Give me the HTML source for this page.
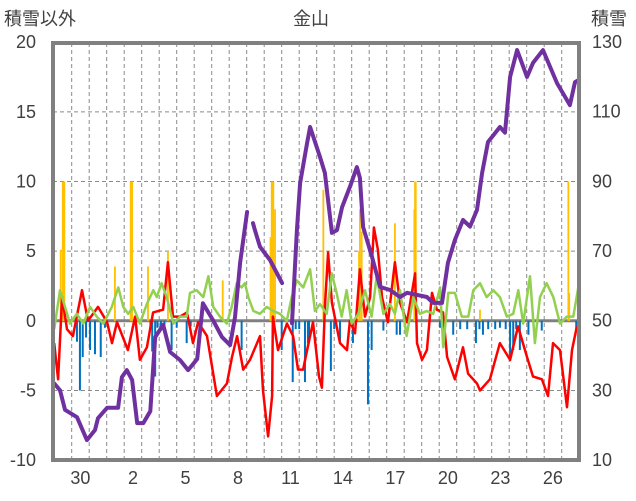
<!DOCTYPE html>
<html><head><meta charset="utf-8">
<style>
html,body{margin:0;padding:0;background:#fff;}
svg{display:block;}
text{font-family:"Liberation Sans","Noto Sans CJK JP",sans-serif;fill:#404040;font-size:18px;}
</style></head>
<body>
<svg id="chart" width="636" height="501">
<text x="4" y="25">積雪以外</text>
<text x="311" y="25" text-anchor="middle">金山</text>
<text x="591" y="25">積雪</text>
<g id="grid"></g>
<g id="bars"></g>
<g id="lines"></g>
<g id="axes"></g>
</svg>
<script>
const leftTicks=[20,15,10,5,0,-5,-10];
const rightTicks=[130,110,90,70,50,30,10];
const dayLabels=["30","2","5","8","11","14","17","20","23","26"];
const dayLabelIdx=[1,4,7,10,13,16,19,22,25,28];
const purpleT=[0,0.33,0.62,1.30,1.87,2.33,2.50,3.02,3.65,3.87,4.15,4.45,4.74,5.09,5.49,5.77,6.23,6.62,7.19,7.65,8.17,8.50,9.07,9.59,10.05,10.33,10.62,11.02,null,11.36,11.47,11.76,12.33,13.02,null,13.59,13.87,14.05,14.45,14.62,15.19,15.47,15.87,16.16,16.45,16.90,17.30,17.47,17.65,18.16,18.62,19.19,19.76,20.16,21.30,21.65,22.16,22.50,22.90,23.36,23.76,24.16,24.45,24.79,25.47,25.76,26.05,26.45,27.02,27.36,27.93,28.73,29.47,29.76,29.93];
const purpleV=[32,30,24.4,22.3,15.7,18.6,22,25,25,33.8,35.8,33,20.6,20.6,24,45.3,48.8,41,38.7,35.8,39,55,50.2,45.3,43,51,66.6,81.2,null,78,76,71.2,67.4,60.8,null,49.3,76,89.5,101,105.6,97,92.4,75.2,76,82.6,88.4,94.1,91,76.9,68.3,59.7,58.8,56.8,58,56.8,55.1,55.1,66.6,73.2,78.9,77,81.8,92.4,101.3,105.6,104,120,127.7,120,124,127.7,118.2,111.9,118.5,119];
const redT=[0,0.22,0.45,0.73,1.07,1.59,1.93,2.50,3.02,3.30,3.59,4.21,4.62,4.90,5.30,5.65,6.22,6.50,6.79,7.19,7.59,7.93,8.22,8.73,9.30,9.87,10.16,10.45,10.80,11.19,11.76,11.93,12.22,12.45,12.50,12.79,13.30,13.65,13.93,14.22,14.45,14.79,15.13,15.30,15.47,15.65,15.87,16.33,16.73,16.90,17.19,17.47,17.76,18.05,18.27,18.50,18.73,19.07,19.47,19.76,20.16,20.62,20.73,21.02,21.30,21.59,21.87,22.22,22.45,22.90,23.36,23.65,24.16,24.33,24.90,25.47,26.05,26.50,27.02,27.36,27.87,28.22,28.50,28.90,29.30,29.59,29.87];
const redV=[-1.6,-4.2,1.7,-0.6,-1.1,2.2,0,1,-0.1,-1.6,-0.1,-2.1,0.3,-2.8,-1.9,0.6,0.8,4.2,0.3,0.3,0.6,-1.6,-0.1,-1.1,-5.4,-4.5,-2.6,-1.1,-3.5,-2.8,-1.1,-5,-8.3,-5.4,0.3,-2.1,-0.2,-1.1,-3.5,-3.5,-2.1,-0.1,-4,-4.8,1,4.9,1.3,-1.6,-2.1,0,-0.9,3.7,0.3,1.7,6.7,5.1,1.7,-0.1,4.2,1.3,-0.1,3.4,-1.6,-2.8,-2.1,2,0.8,0.6,-2.6,-4.2,-1.9,-3.8,-4.5,-5,-4.2,-1.6,-2.8,-0.4,-2.6,-4,-4.2,-5.4,-1.6,-2.1,-6.2,-2.1,-0.4];
const greenT=[0,0.33,0.62,0.90,1.29,1.66,2.05,2.43,2.81,3.29,3.66,3.95,4.23,4.52,4.90,5.29,5.66,5.86,6.14,6.43,6.81,7.19,7.57,7.76,8.14,8.52,8.81,9.09,9.47,9.86,10.14,10.43,10.71,10.90,11.09,11.38,11.76,12.14,12.52,12.90,13.29,13.57,13.86,14.23,14.62,14.90,15.19,15.57,15.86,16.14,16.43,16.71,17.00,17.38,17.76,18.14,18.43,18.81,19.19,19.47,19.76,20.14,20.52,20.90,21.29,21.66,22.05,22.23,22.52,22.90,23.29,23.66,23.95,24.33,24.71,25.09,25.47,25.86,26.23,26.52,26.80,27.19,27.47,27.76,28.14,28.52,28.90,29.29,29.66,29.95];
const greenV=[-0.6,2.2,1.0,-0.2,0.5,-0.2,1.0,0.3,-0.2,1.0,2.4,1.0,0.5,1.0,-0.2,1.2,2.2,1.7,2.7,1.7,-0.2,0.3,0.3,2.0,2.2,1.7,3.2,1.0,0.3,-0.2,1.0,2.7,2.4,2.7,1.7,0.7,0.5,1.0,0.7,0.5,0,1.7,2.9,2.4,3.7,0.7,1.2,0.5,3.4,2.0,0.3,2.2,-0.2,0.5,2.2,0.3,3.2,0.5,1.2,0.5,2.2,-1.1,1.7,0.5,0.7,0.5,2.4,-1.9,2.0,2.0,0.3,0.3,2.2,2.7,1.7,2.2,1.7,0.3,0.5,2.2,-0.2,3.2,-1.6,1.7,2.7,1.7,-0.2,0.3,0.3,2.4];
const yellowT=[0.37,0.49,0.58,3.47,4.37,4.45,5.36,6.50,9.63,12.36,12.43,12.52,12.62,15.38,17.42,17.47,17.57,19.47,20.58,20.62,20.66,24.33,29.38,29.43];
const yellowV=[5.1,10,10,3.9,10,10,3.9,5,2.9,6,10,10,8,9.4,5,8,6.4,7,8,10,10,0.8,10,2];
const blueT=[1.3,1.47,1.63,1.82,2.05,2.33,2.66,2.9,5.5,5.6,5.77,5.9,6.1,6.3,6.71,7.0,7.57,7.8,10.71,13.0,13.63,13.8,14.0,14.33,14.5,14.56,15.81,16.0,16.33,17.07,17.93,18.14,18.81,19.57,19.76,22.05,22.3,22.8,23.2,23.6,24.1,24.3,24.5,24.8,25.2,25.47,25.8,26.05,26.23,26.4,26.61,27.1,27.86,29.83];
const blueV=[-1.5,-5,-2.6,-1.2,-2.1,-2.4,-2.6,-0.5,-0.6,-2.2,-4,-0.5,-0.6,-0.5,-2.1,-0.5,-1.6,-0.4,-2.1,-2.1,-4.4,-0.6,-0.6,-4.4,-1.6,-1.6,-3.6,-0.6,-1.6,-1.6,-6,-2.1,-0.7,-1,-1,-0.5,-0.6,-1,-0.6,-0.6,-1.6,-0.6,-1,-0.6,-0.6,-0.5,-0.6,-2.9,-2.1,-0.6,-2.1,-1,-0.7,-0.7];

const NS='http://www.w3.org/2000/svg';
const X0=54.2, DW=17.5, L=53, R=579, T=43, B=460;
function xs(t){return X0+t*DW;}
function yl(v){return 320.8-v*13.93;}
function yr(s){return 460-(s-10)*3.483;}
function mk(tag,attrs,parent){const e=document.createElementNS(NS,tag);for(const k in attrs)e.setAttribute(k,attrs[k]);parent.appendChild(e);return e;}
const grid=document.getElementById('grid'),bars=document.getElementById('bars'),lines=document.getElementById('lines'),axes=document.getElementById('axes');
for(let d=1;d<30;d++){
  const g=mk('line',{x1:xs(d),x2:xs(d),y1:T,y2:B,stroke:'#8a8a8a','stroke-width':1,'stroke-dasharray':'4,3'},grid);
  
  
}
leftTicks.forEach((v,i)=>{
  if(v!==0&&v!==20&&v!==-10){
    const g=mk('line',{x1:L,x2:R,y1:yl(v),y2:yl(v),stroke:'#8a8a8a','stroke-width':1,'stroke-dasharray':'4,3'},grid);
    
    
  }
  const t=mk('text',{x:36,y:yl(v)+6,'text-anchor':'end'},axes);t.textContent=v;
  
  
});
rightTicks.forEach(s=>{
  const t=mk('text',{x:592,y:yr(s)+6},axes);t.textContent=s;
  
  
});
dayLabels.forEach((lab,i)=>{
  const t=mk('text',{x:xs(dayLabelIdx[i]+0.5),y:484,'text-anchor':'middle'},axes);t.textContent=lab;
  
  
});
const zl=mk('line',{x1:L,x2:R,y1:yl(0),y2:yl(0),stroke:'#808080','stroke-width':3},grid);


yellowT.forEach((t,i)=>{
  const v=yellowV[i];
  const b=mk('rect',{x:xs(t)-0.9,y:yl(v),width:1.8,height:yl(0)-yl(v),fill:'#ffc000'},bars);
  
  
});
blueT.forEach((t,i)=>{
  const v=blueV[i];
  const b=mk('rect',{x:xs(t)-1,y:yl(0),width:2,height:yl(v)-yl(0),fill:'#0070c0'},bars);
  
  
});
function pathFrom(tA,vA,yf){
  let d='',pen=false;
  tA.forEach((t,i)=>{
    if(t===null||vA[i]===null){pen=false;return;}
    d+=(pen?'L':'M')+xs(t).toFixed(1)+','+yf(vA[i]).toFixed(1);pen=true;
  });
  return d;
}
const red=mk('path',{d:pathFrom(redT,redV,yl),fill:'none',stroke:'#ff0000','stroke-width':2.5,'stroke-linejoin':'round'},lines);


const green=mk('path',{d:pathFrom(greenT,greenV,yl),fill:'none',stroke:'#92d050','stroke-width':2.5,'stroke-linejoin':'round'},lines);


const purple=mk('path',{d:pathFrom(purpleT,purpleV,yr),fill:'none',stroke:'#7030a0','stroke-width':4,'stroke-linejoin':'round','stroke-linecap':'round'},lines);


const fr=mk('rect',{x:L,y:T,width:R-L,height:B-T,fill:'none',stroke:'#808080','stroke-width':4},axes);


</script>
</body></html>
